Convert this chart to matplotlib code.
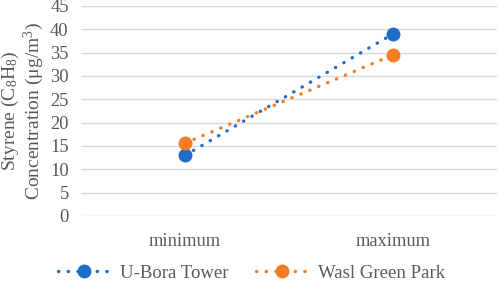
import matplotlib.pyplot as plt

categories = ['minimum', 'maximum']
ubora = [13.0, 39.0]
wasl = [15.6, 34.5]
series_names = ['U-Bora Tower', 'Wasl Green Park']

plt.rcParams['font.family'] = ['Liberation Serif', 'DejaVu Serif']
plt.rcParams['mathtext.fontset'] = 'custom'
plt.rcParams['mathtext.rm'] = 'Liberation Serif'
plt.rcParams['mathtext.it'] = 'Liberation Serif'

grey = '#595959'
fig = plt.figure(figsize=(4.98, 2.83), dpi=100)
ax = fig.add_axes([0.163, 0.237, 0.835, 0.742])

x = range(len(categories))
for vals, col, name in [(ubora, '#1F6BCB', series_names[0]), (wasl, '#F57C22', series_names[1])]:
    ax.plot(x, vals, color=col, lw=2.4, linestyle=(0, (0.1, 2.8)),
            dash_capstyle='round', marker='o', markersize=9, label=name, zorder=3)

ax.set_xlim(-0.5, 1.5)
ax.set_ylim(0, 45)
ax.set_yticks(range(0, 46, 5))
ax.set_xticks(list(x))
ax.set_xticklabels(categories)
ax.grid(axis='y', color='#d9d9d9', lw=1)
ax.set_axisbelow(True)
for s in ax.spines.values():
    s.set_visible(False)
ax.tick_params(length=0, labelsize=13.3, colors=grey, pad=9)
ax.tick_params(axis='x', pad=12)

ax.set_ylabel('Styrene (C$_8$H$_8$)\nConcentration (μg/m$^3$)', fontsize=14, color=grey,
              labelpad=3, linespacing=1.0)

fig.legend(loc='lower center', bbox_to_anchor=(0.505, -0.055), ncol=2, frameon=False,
           fontsize=13.5, labelcolor=grey, handlelength=2.8, handletextpad=0.5,
           columnspacing=1.5)

fig.savefig('out.png', dpi=100)
